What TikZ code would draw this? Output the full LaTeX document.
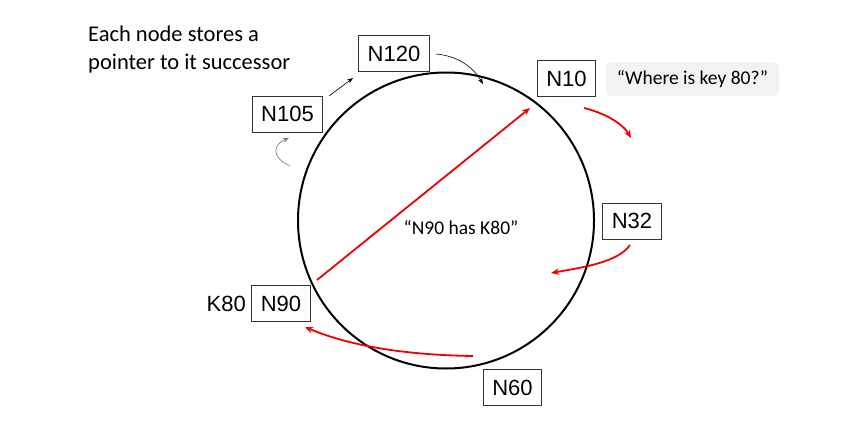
\documentclass[tikz,border=0pt]{standalone}
\usepackage{fontspec}
\setmainfont{Liberation Sans}
\newfontfamily\calfont{Carlito}
\usetikzlibrary{arrows.meta}
\definecolor{boxgray}{HTML}{F2F2F2}
\definecolor{arrred}{HTML}{F00000}
\tikzset{
  nodebox/.style={draw=black!80, line width=0.9pt, inner xsep=9pt, inner ysep=0pt, minimum height=36pt, font=\fontsize{22}{26}\selectfont},
  redarrow/.style={draw=arrred, line width=1.8pt, -{Stealth[length=8pt,width=6.5pt]}},
  thinarrow/.style={draw=black, line width=0.6pt, -{Stealth[length=6pt,width=4.5pt]}},
  grayarrow/.style={draw=black!55, line width=0.6pt, -{Stealth[length=6pt,width=4.5pt]}},
  caltext/.style={font=\calfont\fontsize{19.5}{24}\selectfont, inner sep=0pt}
}
\begin{document}
\begin{tikzpicture}[x=1pt,y=-1pt]
\useasboundingbox (0,0) rectangle (866,420);
% ring
\node (ring) [draw, circle, line width=2pt, minimum size=296pt, inner sep=0pt] at (446,220.5) {};
% nodes
\node (n120) [nodebox] at (394,53.5) {N120};
\node (n105) [nodebox] at (287.5,114) {N105};
\node (n10) [nodebox] at (566.5,78.5) {N10};
\node (n32) [nodebox] at (632,221) {N32};
\node (n90) [nodebox] at (281,303.5) {N90};
\node (n60) [nodebox] at (512.5,387.5) {N60};
\node (k80) [font=\fontsize{22}{26}\selectfont, inner sep=0pt, anchor=east] at (246,303.5) {K80};
\node (query) [fill=boxgray, rounded corners=5pt, minimum width=173pt, minimum height=34pt, inner sep=0pt, font=\calfont\fontsize{19.5}{24}\selectfont] at (692.5,79) {“Where is key 80?”};
\node (has) [caltext] at (461,228) {“N90 has K80”};
\node (caption) [anchor=north west, align=left, inner sep=0pt, font=\calfont\fontsize{22.5}{27.5}\selectfont] at (88,26) {Each node stores a\\pointer to it successor};
% coordinates for connector ends
\coordinate (r1s) at (317,280);
\coordinate (r1e) at (530,108);
\coordinate (r2s) at (584,108);
\coordinate (r2e) at (631,138);
\coordinate (r3s) at (630,245);
\coordinate (r3e) at (551,273);
\coordinate (r4s) at (473,356);
\coordinate (r4e) at (305,327);
\coordinate (b1s) at (329,96);
\coordinate (b1e) at (353,78);
\coordinate (b2s) at (436,54);
\coordinate (b2e) at (483,84);
\coordinate (g1s) at (290,166);
\coordinate (g1e) at (289,138);
% connectors
\draw[redarrow] (r1s) -- (r1e);
\draw[redarrow] (r2s) .. controls (605,113) and (623,124) .. (r2e);
\draw[redarrow] (r3s) .. controls (618,262) and (585,267) .. (r3e);
\draw[redarrow] (r4s) .. controls (405,355) and (350,346) .. (r4e);
\draw[thinarrow] (b1s) -- (b1e);
\draw[thinarrow] (b2s) .. controls (458,56) and (473,67) .. (b2e);
\draw[grayarrow] (g1s) .. controls (272,158) and (272,145) .. (g1e);
\end{tikzpicture}
\end{document}
